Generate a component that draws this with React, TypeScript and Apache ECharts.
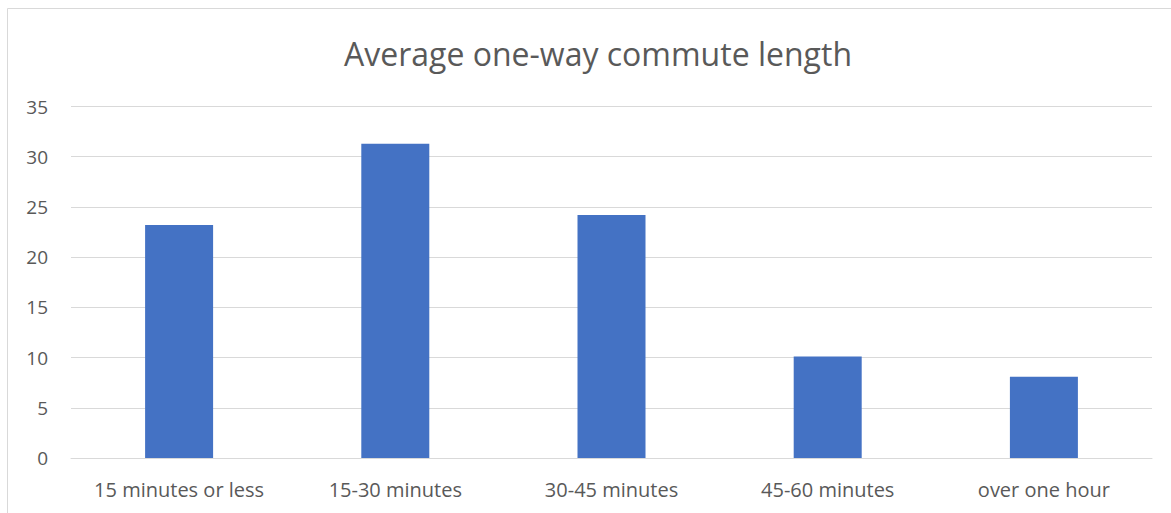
import React, { useEffect, useRef } from "react";
import * as echarts from "echarts";

const categories = ["15 minutes or less", "15-30 minutes", "30-45 minutes", "45-60 minutes", "over one hour"];
const values = [23.2, 31.3, 24.2, 10.1, 8.1];
const yTicks = { min: 0, max: 35, interval: 5 };
const titleText = "Average one-way commute length";

export default function App() {
  const ref = useRef<HTMLDivElement>(null);
  useEffect(() => {
    if (!ref.current) return;
    const chart = echarts.init(ref.current, null, { renderer: "svg" });
    const font = "'Open Sans', 'Noto Sans', sans-serif";
    chart.setOption({
      animation: false,
      backgroundColor: "#ffffff",
      title: {
        text: titleText,
        left: 593,
        textAlign: "center",
        top: 32,
        textStyle: { fontFamily: font, fontSize: 32, fontWeight: "normal", color: "#595959" },
      },
      graphic: [
        {
          type: "rect",
          shape: { x: 7.5, y: 8.5, width: 1200, height: 600 },
          style: { fill: "none", stroke: "#D9D9D9", lineWidth: 1 },
          silent: true,
        },
      ],
      grid: { left: 71, right: 19, top: 106.5, bottom: 55, containLabel: false },
      xAxis: {
        type: "category",
        data: categories,
        axisLine: { show: true, lineStyle: { color: "#D9D9D9", width: 1 } },
        axisTick: { show: false },
        axisLabel: { color: "#595959", fontFamily: font, fontSize: 20, margin: 21, interval: 0 },
      },
      yAxis: {
        type: "value",
        min: yTicks.min,
        max: yTicks.max,
        interval: yTicks.interval,
        axisLine: { show: false },
        axisTick: { show: false },
        splitLine: { lineStyle: { color: "#D9D9D9", width: 1 } },
        axisLabel: { color: "#595959", fontFamily: font, fontSize: 19, margin: 23 },
      },
      series: [
        {
          type: "bar",
          data: values,
          barWidth: 68,
          itemStyle: { color: "#4472C4" },
        },
      ],
    });
    return () => chart.dispose();
  }, []);
  return (
    <div
      ref={ref}
      style={{ position: "fixed", left: 0, top: 0, width: 1171, height: 513 }}
    />
  );
}
